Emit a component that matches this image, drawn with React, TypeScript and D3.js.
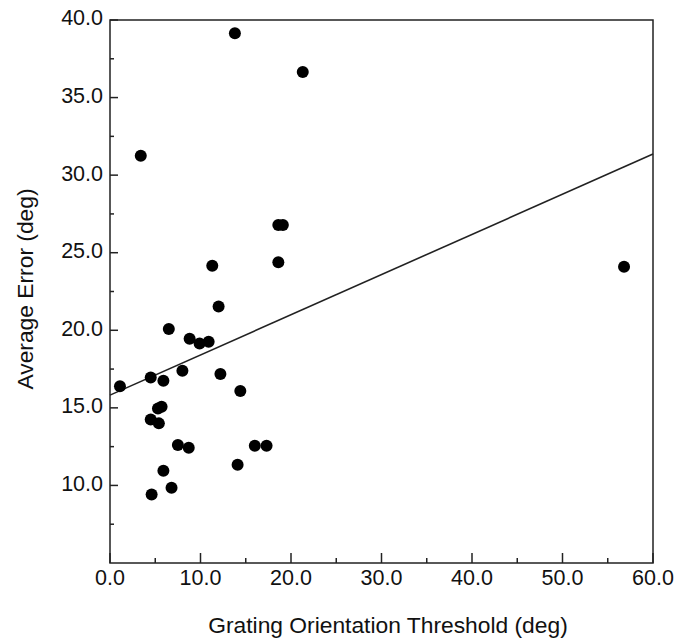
import React from "react";
import * as d3 from "d3";

const thresholds = [1.1, 3.4, 4.5, 4.5, 4.6, 5.4, 5.3, 5.7, 5.9, 5.9, 6.5, 6.8, 7.5, 8.0, 8.7, 8.8, 9.9, 10.9, 11.3, 12.0, 12.2, 13.8, 14.1, 14.4, 16.0, 17.3, 18.6, 19.1, 18.6, 21.3, 56.8];
const errors = [16.4, 31.25, 16.95, 14.25, 9.42, 14.0, 14.96, 15.07, 16.75, 10.94, 20.08, 9.85, 12.6, 17.39, 12.43, 19.45, 19.15, 19.26, 24.16, 21.54, 17.18, 39.14, 11.33, 16.08, 12.56, 12.56, 26.78, 26.78, 24.38, 36.65, 24.1];
const fitIntercept = 15.82;
const fitSlope = 0.259;
const xTicks = [0, 10, 20, 30, 40, 50, 60];
const xMinor = [5, 15, 25, 35, 45, 55];
const yTicks = [10, 15, 20, 25, 30, 35, 40];
const yMinor = [7.5, 12.5, 17.5, 22.5, 27.5, 32.5, 37.5];

export default function App() {
  const W = 676, H = 641;
  const left = 110, right = 653, top = 20, bottom = 563;
  const x = d3.scaleLinear().domain([0, 60]).range([left, right]);
  const y = d3.scaleLinear().domain([5, 40]).range([bottom, top]);
  const font = "'Liberation Sans', Arial, Helvetica, sans-serif";
  const stroke = "#222";
  const line = d3.line<number>().x(d => x(d)).y(d => y(fitIntercept + fitSlope * d));
  return (
    <svg width={W} height={H} style={{ position: "absolute", left: 0, top: 0, background: "#fff" }} fontFamily={font}>
      <rect x={0} y={0} width={W} height={H} fill="#fff" />
      <rect x={left} y={top} width={right - left} height={bottom - top} fill="none" stroke={stroke} strokeWidth={1.5} />
      {xTicks.map(t => (
        <g key={"xt" + t}>
          <line x1={x(t)} x2={x(t)} y1={bottom} y2={bottom - 10} stroke={stroke} strokeWidth={1.5} />
          <text x={x(t)} y={585} textAnchor="middle" fontSize={21.5} fill="#111">{t.toFixed(1)}</text>
        </g>
      ))}
      {xMinor.map(t => (
        <line key={"xm" + t} x1={x(t)} x2={x(t)} y1={bottom} y2={bottom - 5} stroke={stroke} strokeWidth={1.5} />
      ))}
      {yTicks.map(t => (
        <g key={"yt" + t}>
          <line x1={left} x2={left + 8} y1={y(t)} y2={y(t)} stroke={stroke} strokeWidth={1.5} />
          <text x={103} y={y(t)} dy="0.25em" textAnchor="end" fontSize={21.5} fill="#111">{t.toFixed(1)}</text>
        </g>
      ))}
      {yMinor.map(t => (
        <line key={"ym" + t} x1={left} x2={left + 4} y1={y(t)} y2={y(t)} stroke={stroke} strokeWidth={1.5} />
      ))}
      <path d={line([0, 60]) || ""} fill="none" stroke={stroke} strokeWidth={1.6} />
      {thresholds.map((v, i) => (
        <circle key={"p" + i} cx={x(v)} cy={y(errors[i])} r={6} fill="#000" />
      ))}
      <text x={388} y={633} textAnchor="middle" fontSize={22.8} fill="#111">Grating Orientation Threshold (deg)</text>
      <text transform="translate(33, 289) rotate(-90)" textAnchor="middle" fontSize={22.8} fill="#111">Average Error (deg)</text>
    </svg>
  );
}
